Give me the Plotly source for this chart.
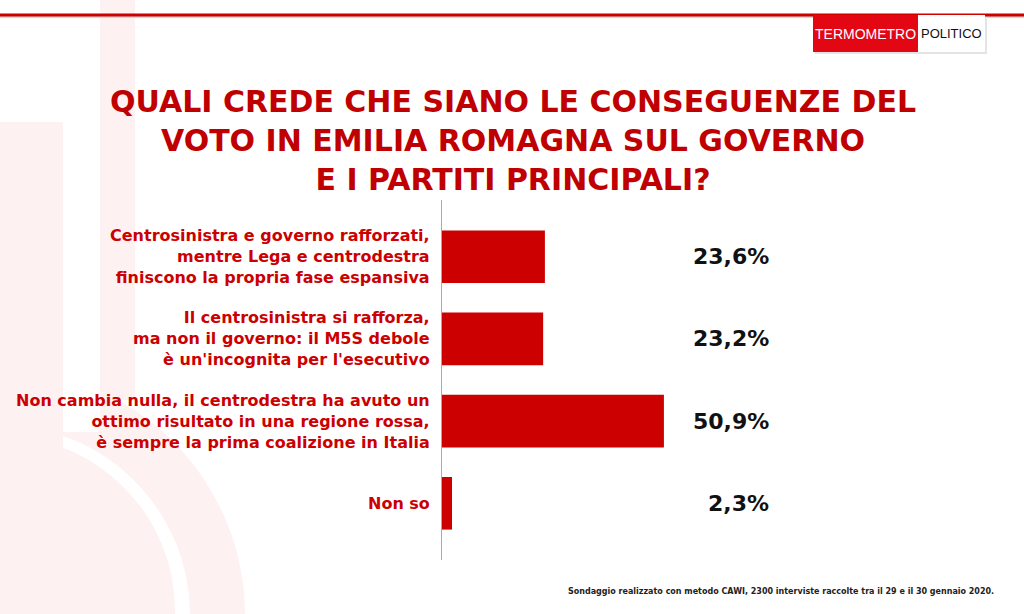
import plotly.graph_objects as go

# ---- data ----
categories = [
    "Centrosinistra e governo rafforzati,<br>mentre Lega e centrodestra<br>finiscono la propria fase espansiva",
    "Il centrosinistra si rafforza,<br>ma non il governo: il M5S debole<br>è un'incognita per l'esecutivo",
    "Non cambia nulla, il centrodestra ha avuto un<br>ottimo risultato in una regione rossa,<br>è sempre la prima coalizione in Italia",
    "Non so",
]
values = [23.6, 23.2, 50.9, 2.3]
title_text = "QUALI CREDE CHE SIANO LE CONSEGUENZE DEL<br>VOTO IN EMILIA ROMAGNA SUL GOVERNO<br>E I PARTITI PRINCIPALI?"
footnote = "Sondaggio realizzato con metodo CAWI, 2300 interviste raccolte tra il 29 e il 30 gennaio 2020."

# ---- layout geometry (pixels) ----
WIDTH, HEIGHT = 1024, 614
L, R, T, B = 442, 146, 200, 54
PW = WIDTH - L - R
PH = HEIGHT - T - B

def px(x):
    return (x - L) / PW

def py(y):
    return (HEIGHT - B - y) / PH

RED = "#cc0000"
PINK = "#fdf1f1"
FONT = "DejaVu Sans"

cat_ids = list(range(len(categories)))

fig = go.Figure()
fig.add_trace(go.Bar(
    x=values, y=cat_ids, orientation="h",
    marker=dict(color=RED, line=dict(width=0)),
    hoverinfo="skip",
))

shapes = []
# watermark shapes
shapes.append(dict(type="circle", xref="paper", yref="paper", x0=px(-245), x1=px(245), y0=py(370), y1=py(860),
                   fillcolor=PINK, line=dict(width=0), layer="below"))
shapes.append(dict(type="circle", xref="paper", yref="paper", x0=px(-190), x1=px(190), y0=py(425), y1=py(805),
                   fillcolor="white", line=dict(width=0), layer="below"))
shapes.append(dict(type="rect", xref="paper", yref="paper", x0=px(0), x1=px(100), y0=py(360), y1=py(432),
                   fillcolor="white", line=dict(width=0), layer="below"))
shapes.append(dict(type="circle", xref="paper", yref="paper", x0=px(-175), x1=px(175), y0=py(436), y1=py(786),
                   fillcolor=PINK, line=dict(width=0), layer="below"))
shapes.append(dict(type="rect", xref="paper", yref="paper", x0=px(100), x1=px(135), y0=py(0), y1=py(400),
                   fillcolor=PINK, line=dict(width=0), layer="below"))
shapes.append(dict(type="rect", xref="paper", yref="paper", x0=px(0), x1=px(63), y0=py(122), y1=py(500),
                   fillcolor=PINK, line=dict(width=0), layer="below"))
# top line with shadow
shapes.append(dict(type="line", xref="paper", yref="paper", x0=px(0), x1=px(1024), y0=py(17), y1=py(17),
                   line=dict(color="#d8d8d8", width=2), layer="above"))
shapes.append(dict(type="line", xref="paper", yref="paper", x0=px(0), x1=px(1024), y0=py(15), y1=py(15),
                   line=dict(color=RED, width=3), layer="above"))
# logo
shapes.append(dict(type="rect", xref="paper", yref="paper", x0=px(815), x1=px(987), y0=py(17), y1=py(54),
                   fillcolor="#e4e4e4", line=dict(width=0), layer="above"))
shapes.append(dict(type="rect", xref="paper", yref="paper", x0=px(813), x1=px(918), y0=py(15), y1=py(52),
                   fillcolor="#e30613", line=dict(width=0), layer="above"))
shapes.append(dict(type="rect", xref="paper", yref="paper", x0=px(918), x1=px(985), y0=py(15), y1=py(52),
                   fillcolor="white", line=dict(width=0), layer="above"))

annotations = []
for i, (cat, v) in enumerate(zip(categories, values)):
    annotations.append(dict(
        x=px(432), xref="paper", y=i, yref="y", text=cat, showarrow=False,
        xanchor="right", yanchor="middle", align="right",
        font=dict(family=FONT, size=16, color=RED, weight="bold"),
    ))
    annotations.append(dict(
        x=px(771), xref="paper", y=i, yref="y",
        text=f"{v:.1f}".replace(".", ",") + "%", showarrow=False,
        xanchor="right", yanchor="middle",
        font=dict(family=FONT, size=22, color="#111111", weight="bold"),
    ))

annotations.append(dict(
    x=px(513), xref="paper", y=py(141), yref="paper", text=title_text, showarrow=False,
    xanchor="center", yanchor="middle", align="center",
    font=dict(family=FONT, size=30, color="#c00000", weight="bold"),
))
annotations.append(dict(
    x=px(996), xref="paper", y=py(591), yref="paper", text=footnote, showarrow=False,
    xanchor="right", yanchor="middle",
    font=dict(family=FONT, size=8, color="#222222", weight="bold"),
))
annotations.append(dict(
    x=px(865.5), xref="paper", y=py(33.5), yref="paper", text="TERMOMETRO", showarrow=False,
    xanchor="center", yanchor="middle",
    font=dict(family="Liberation Sans Narrow, Liberation Sans", size=14, color="white"),
))
annotations.append(dict(
    x=px(951.5), xref="paper", y=py(33.5), yref="paper", text="POLITICO", showarrow=False,
    xanchor="center", yanchor="middle",
    font=dict(family="Liberation Sans Narrow, Liberation Sans", size=13, color="#111111"),
))

fig.update_layout(
    width=WIDTH, height=HEIGHT,
    margin=dict(l=L, r=R, t=T, b=B, autoexpand=False),
    paper_bgcolor="white", plot_bgcolor="rgba(0,0,0,0)",
    showlegend=False, bargap=0.36,
    xaxis=dict(range=[0, 100], visible=False, fixedrange=True),
    yaxis=dict(range=[3.69, -0.69], showticklabels=False, showgrid=False, zeroline=False,
               showline=True, linecolor="#aaaaaa", linewidth=1, ticks="", fixedrange=True),
    shapes=shapes, annotations=annotations,
)

fig.write_html("out.html", config={"displayModeBar": False})
